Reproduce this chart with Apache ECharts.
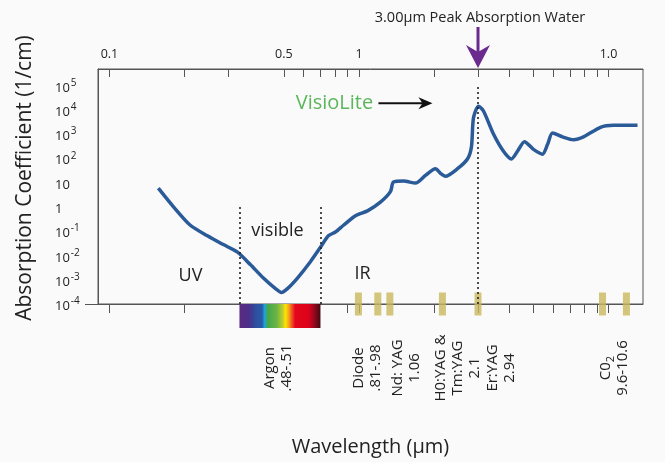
<!DOCTYPE html>
<html>
<head>
<meta charset="utf-8">
<script src="https://cdn.jsdelivr.net/npm/echarts@6/dist/echarts.min.js"></script>
<style>
html, body { margin: 0; background: #fafafa; }
#chart { width: 665px; height: 462px; }
</style>
</head>
<body>
<div id="chart"></div>
<script>
// water absorption curve (µm, 1/cm)
const wavelength = [0.157, 0.181, 0.211, 0.247, 0.286, 0.326, 0.367, 0.414, 0.463, 0.489, 0.517, 0.567,
  0.639, 0.701, 0.754, 0.805, 0.867, 0.968, 1.082, 1.219, 1.337, 1.375, 1.508, 1.685, 1.847, 2.026,
  2.121, 2.222, 2.482, 2.722, 2.824, 2.877, 3.013, 3.155, 3.46, 3.795, 4.085, 4.318, 4.607, 5.006,
  5.44, 5.695, 5.965, 6.541, 7.239, 7.941, 9.29, 10.47, 13.07]
const absorption = [5.9, 0.98, 0.174, 0.064, 0.028, 0.0136, 0.0042, 0.00117, 0.00043, 0.0003, 0.00043, 0.00117,
  0.0055, 0.0215, 0.064, 0.092, 0.174, 0.43, 0.68, 1.55, 4.2, 10.5, 11.5, 9.5, 19.8, 37,
  24, 18, 37, 93, 300, 4650, 13900, 8800, 990, 193, 93, 193, 480, 231,
  147, 364, 1090, 754, 574, 754, 1875, 2250, 2250]

// laser lines as they sit on the axis in the picture
const laserLines = [0.995, 1.19, 1.33, 2.16, 3.0, 9.46, 11.8]
const visibleBand = [0.332, 0.701]
const peakWavelength = 3.0

const topTicks = [0.1, 0.2, 0.3, 0.5, 0.6, 0.7, 0.8, 0.9, 1, 2, 3, 4, 5, 6, 7, 8, 9, 10]
const bottomTicks = [0.1, 0.2, 0.9, 1, 2, 3, 4, 5, 6, 7, 8, 9, 10]
const xTickLabels = [0.1, 0.5, 1, 10]
const yTickLabels = [1e-4, 1e-3, 1e-2, 1e-1, 1, 10, 1e2, 1e3, 1e4, 1e5]

const font = 'Open Sans'
const ink = '#222'
const axisColor = '#555'

const chart = echarts.init(document.getElementById('chart'))

const rainbow = new echarts.graphic.LinearGradient(0, 0, 1, 0, [
  { offset: 0, color: '#5b2a82' },
  { offset: 0.12, color: '#4a3089' },
  { offset: 0.2, color: '#2d4f9f' },
  { offset: 0.28, color: '#2a5aa8' },
  { offset: 0.31, color: '#1ea3dc' },
  { offset: 0.35, color: '#45a748' },
  { offset: 0.46, color: '#6bb444' },
  { offset: 0.53, color: '#b8cd2e' },
  { offset: 0.57, color: '#fde300' },
  { offset: 0.61, color: '#f7a11b' },
  { offset: 0.65, color: '#ee4b23' },
  { offset: 0.69, color: '#e3051b' },
  { offset: 0.85, color: '#dd031a' },
  { offset: 0.92, color: '#9a0720' },
  { offset: 1, color: '#3f0a10' }
])

function supLabel (v) {
  const e = Math.round(Math.log10(v))
  if (e === 0) return '1'
  if (e === 1) return '10'
  return '10{sup|' + String(e) + '}'
}

const option = {
  backgroundColor: '#fafafa',
  animation: false,
  textStyle: { fontFamily: font },
  grid: {
    left: 98, right: 22, top: 69, bottom: 148,
    show: true, borderColor: axisColor, borderWidth: 1
  },
  xAxis: [{
    type: 'log',
    min: 0.09,
    max: 13.75,
    position: 'bottom',
    name: 'Wavelength (µm)',
    nameLocation: 'middle',
    nameGap: 133,
    nameTextStyle: { fontSize: 20, color: ink, fontFamily: font },
    axisLine: { show: true, lineStyle: { color: axisColor, width: 1 } },
    axisTick: { show: true, customValues: bottomTicks, inside: false, length: 9, lineStyle: { color: axisColor } },
    axisLabel: { show: false },
    splitLine: { show: false },
    minorTick: { show: false }
  }, {
    type: 'log',
    min: 0.09,
    max: 13.75,
    position: 'top',
    axisLine: { show: true, lineStyle: { color: axisColor, width: 1 } },
    axisTick: { show: true, customValues: topTicks, inside: true, length: 8, lineStyle: { color: axisColor } },
    axisLabel: {
      show: true,
      customValues: xTickLabels,
      margin: 8,
      fontSize: 12.5,
      color: ink,
      fontFamily: font,
      formatter: v => (v === 10 ? '1.0' : String(v))
    },
    splitLine: { show: false }
  }],
  yAxis: {
    type: 'log',
    min: 1e-4,
    max: 4.7e5,
    axisLine: { show: true, lineStyle: { color: axisColor, width: 1 } },
    axisTick: { show: true, customValues: [1e-4], inside: false, length: 13, lineStyle: { color: axisColor } },
    axisLabel: {
      show: true,
      customValues: yTickLabels,
      align: 'left',
      margin: 43,
      fontSize: 13,
      color: ink,
      fontFamily: font,
      padding: [5, 0, 0, 0],
      formatter: supLabel,
      rich: {
        sup: { fontSize: 10, padding: [0, 0, 10, 1], color: ink, fontFamily: font }
      }
    },
    splitLine: { show: false }
  },
  series: [{
    type: 'custom',
    name: 'visible spectrum',
    xAxisIndex: 0,
    clip: false,
    silent: true,
    data: [visibleBand],
    renderItem: (params, api) => {
      const a = api.coord([api.value(0), 1e-4])
      const b = api.coord([api.value(1), 1e-4])
      return {
        type: 'rect',
        shape: { x: a[0], y: a[1], width: b[0] - a[0], height: 24 },
        style: { fill: rainbow }
      }
    },
    z: 1
  }, {
    type: 'line',
    name: 'Water',
    data: wavelength.map((w, i) => [w, absorption[i]]),
    smooth: 0.25,
    showSymbol: false,
    lineStyle: { color: '#2a5b98', width: 3.5 },
    itemStyle: { color: '#2a5b98' },
    z: 3,
    markLine: {
      silent: true,
      symbol: 'none',
      label: { show: false },
      lineStyle: { color: ink, type: [2, 3], width: 1.6 },
      data: [
        [{ coord: [visibleBand[0], 1e-4] }, { coord: [visibleBand[0], 1] }],
        [{ coord: [visibleBand[1], 1e-4] }, { coord: [visibleBand[1], 1] }],
        [{ coord: [peakWavelength, 1e-4] }, { coord: [peakWavelength, 1e5] }]
      ]
    }
  }, {
    type: 'scatter',
    name: 'Lasers',
    clip: false,
    silent: true,
    symbol: 'rect',
    symbolSize: [7, 23],
    itemStyle: { color: '#c9b85b' },
    data: laserLines.map(w => [w, 1e-4]),
    z: 4
  }]
}

chart.setOption(option)

// annotations placed through the chart's own scales
const P = (x, y) => chart.convertToPixel({ xAxisIndex: 0, yAxisIndex: 0 }, [x, y])
const peak = P(peakWavelength, 1e5)
const gridTop = 69
const txt = (x, y, text, size, extra) => Object.assign({
  type: 'text',
  x: x,
  y: y,
  silent: true,
  style: Object.assign({
    text: text,
    fontSize: size,
    fontFamily: font,
    fill: ink,
    align: 'center',
    verticalAlign: 'middle'
  }, (extra && extra.style) || {})
}, extra && extra.el)

const uv = P(0.2112, 0.0014)
const vis = P(0.4713, 0.101)
const ir = P(1.033, 0.00168)
const visio = P(0.7977, 18240)
const arrowA = P(1.197, 18240)
const arrowB = P(1.971, 18240)
const labelY = 368
const groups = [
  { w: 0.4757, text: 'Argon\n.48-.51' },
  { w: 1.082, text: 'Diode\n.81-.98' },
  { w: 1.55, text: 'Nd: YAG\n1.06' },
  { w: 2.482, text: 'H0:YAG &\nTm:YAG\n2.1' },
  { w: 3.725, text: 'Er:YAG\n2.94' },
  { w: 10.57, text: 'C0{sub|2}\n9.6-10.6' }
]

const graphic = [
  txt(peak[0] + 2, 18, '3.00µm Peak Absorption Water', 14.5),
  {
    type: 'line', silent: true,
    shape: { x1: peak[0], y1: 27, x2: peak[0], y2: 54 },
    style: { stroke: '#6a2a8e', lineWidth: 3 }
  },
  {
    type: 'polygon', silent: true,
    shape: { points: [[peak[0] - 12, 45], [peak[0], 52], [peak[0] + 12, 45], [peak[0], gridTop - 1]] },
    style: { fill: '#6a2a8e' }
  },
  txt(uv[0], uv[1], 'UV', 18),
  txt(vis[0], vis[1], 'visible', 18),
  txt(ir[0], ir[1], 'IR', 18),
  txt(visio[0], visio[1], 'VisioLite', 20, { style: { fill: '#5cb65c' } }),
  {
    type: 'line', silent: true,
    shape: { x1: arrowA[0], y1: arrowA[1], x2: arrowB[0] - 8, y2: arrowB[1] },
    style: { stroke: '#111', lineWidth: 2 }
  },
  {
    type: 'polygon', silent: true,
    shape: { points: [[arrowB[0] - 14, arrowB[1] - 6], [arrowB[0], arrowB[1]], [arrowB[0] - 14, arrowB[1] + 6], [arrowB[0] - 10, arrowB[1]]] },
    style: { fill: '#111' }
  },
  {
    type: 'text', silent: true,
    x: 25, y: 178, rotation: Math.PI / 2,
    style: {
      text: 'Absorption Coefficient (1/cm)',
      fontSize: 21, fontFamily: font, fill: ink,
      align: 'center', verticalAlign: 'middle'
    }
  }
]

groups.forEach(g => {
  const p = P(g.w, 1e-4)
  graphic.push({
    type: 'text', silent: true,
    x: p[0], y: labelY, rotation: Math.PI / 2,
    style: {
      text: g.text,
      fontSize: 15, fontFamily: font, fill: ink,
      lineHeight: 17,
      align: 'center', verticalAlign: 'middle',
      rich: { sub: { fontSize: 11, padding: [9, 0, 0, 0], fontFamily: font, fill: ink } }
    }
  })
})

chart.setOption({ graphic: graphic })
</script>
</body>
</html>
